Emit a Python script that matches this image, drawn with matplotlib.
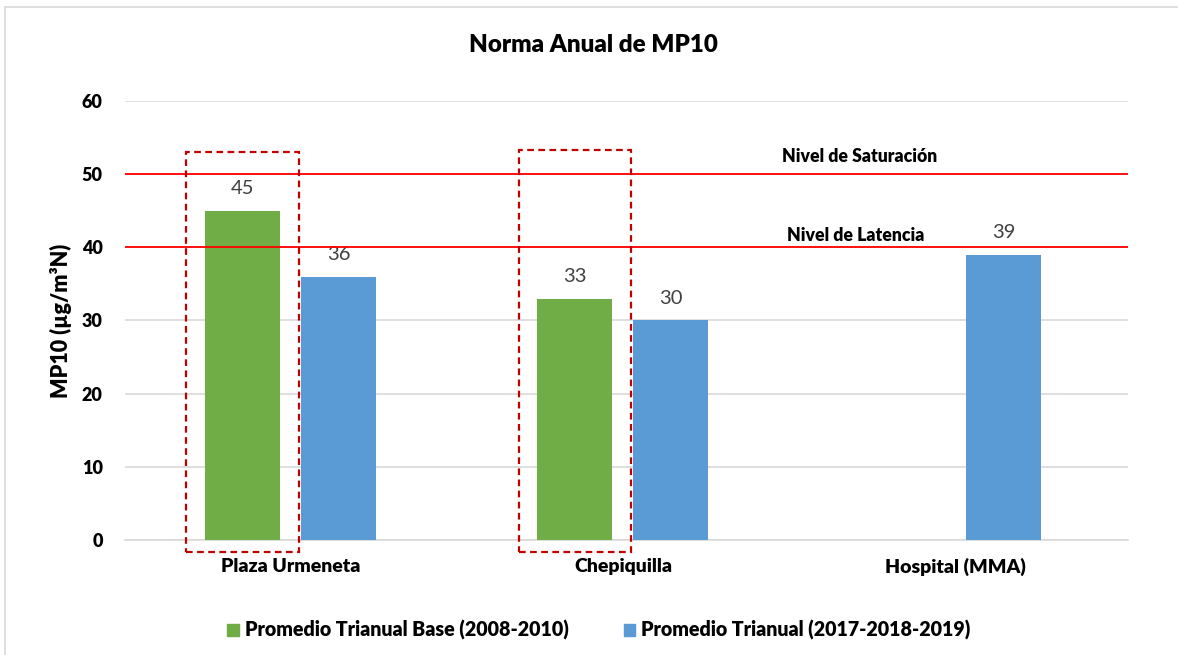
import matplotlib
matplotlib.use("Agg")
import matplotlib.pyplot as plt
import numpy as np
from matplotlib.patches import Rectangle
from matplotlib.lines import Line2D

categories = ["Plaza Urmeneta", "Chepiquilla", "Hospital (MMA)"]
base_values = [45, 33, np.nan]
recent_values = [36, 30, 39]
series_names = ["Promedio Trianual Base (2008-2010)", "Promedio Trianual (2017-2018-2019)"]
saturation_level = 50
latency_level = 40
yticks = [0, 10, 20, 30, 40, 50, 60]

plt.rcParams['font.family'] = ['Lato', 'DejaVu Sans']
BOLD = 800

GREEN = "#70AD47"
BLUE = "#5B9BD5"

fig = plt.figure(figsize=(11.78, 6.55), dpi=100)
ax = fig.add_axes([0.1061, 0.1756, 0.8515, 0.6702])

x = np.arange(len(categories))
w = 0.2256
off = 0.1444

ax.bar(x - off, base_values, w, color=GREEN, zorder=3)
ax.bar(x + off, recent_values, w, color=BLUE, zorder=3)

for xi, v in zip(x - off, base_values):
    if not np.isnan(v):
        ax.text(xi, v + 1.9, f"{v:g}", ha="center", va="bottom", fontsize=14.5, color="#404040")
for xi, v in zip(x + off, recent_values):
    ax.text(xi, v + 1.9, f"{v:g}", ha="center", va="bottom", fontsize=14.5, color="#404040")

ax.set_xlim(-0.4977, 2.519)
ax.set_ylim(0, 60)
ax.set_yticks(yticks)
ax.set_yticklabels([str(t) for t in yticks], fontsize=13, fontweight=BOLD)
ax.set_xticks(x)
ax.set_xticklabels(categories, fontsize=14, fontweight=BOLD)
ax.tick_params(axis="both", length=0)
ax.tick_params(axis="y", pad=16)
ax.tick_params(axis="x", pad=13)
ax.yaxis.grid(True, color="#D9D9D9", linewidth=1.2, zorder=0)
ax.set_axisbelow(True)
for s in ["top", "right", "left"]:
    ax.spines[s].set_visible(False)
ax.spines["bottom"].set_color("#D9D9D9")
ax.spines["bottom"].set_linewidth(1.2)

ax.set_ylabel("MP10 (µg/m³N)", fontsize=15.5, fontweight=BOLD)
ax.yaxis.set_label_coords(-0.0528, 0.5)

# reference lines
ax.axhline(saturation_level, color="#FF0000", linewidth=1.3, zorder=4)
ax.axhline(latency_level, color="#FF0000", linewidth=1.3, zorder=4)
ax.text(1.711, saturation_level + 1.2, "Nivel de Saturación", ha="center", va="bottom",
        fontsize=12.7, fontweight=BOLD)
ax.text(1.70, latency_level + 0.4, "Nivel de Latencia", ha="center", va="bottom",
        fontsize=12.7, fontweight=BOLD)

# dashed highlight boxes around base bars
pad = 0.056
for xi, top in zip(x[:2] - off, [53.0, 53.3]):
    r = Rectangle((xi - w / 2 - pad, -1.7), w + 2 * pad, top + 1.7, fill=False,
                  edgecolor="#C00000", linestyle=(0, (3, 2)), linewidth=1.6,
                  clip_on=False, zorder=5)
    ax.add_patch(r)

fig.text(0.504, 0.931, "Norma Anual de MP10", ha="center", va="center",
         fontsize=17.4, fontweight=BOLD)

handles = [Rectangle((0, 0), 1, 1, color=GREEN), Rectangle((0, 0), 1, 1, color=BLUE)]
fig.legend(handles, series_names, loc="center", bbox_to_anchor=(0.5085, 0.038), ncol=2,
           frameon=False, handlelength=0.6, handleheight=0.6, handletextpad=0.3,
           columnspacing=2.8, prop={"size": 14.1, "weight": BOLD})

# chart border (left & top)
fig.add_artist(Line2D([0.0045, 0.0045], [0, 0.99], color="#D9D9D9", linewidth=1.2,
                      transform=fig.transFigure))
fig.add_artist(Line2D([0.0045, 1.0], [0.99, 0.99], color="#D9D9D9", linewidth=1.2,
                      transform=fig.transFigure))

fig.savefig("out.png", dpi=100)
